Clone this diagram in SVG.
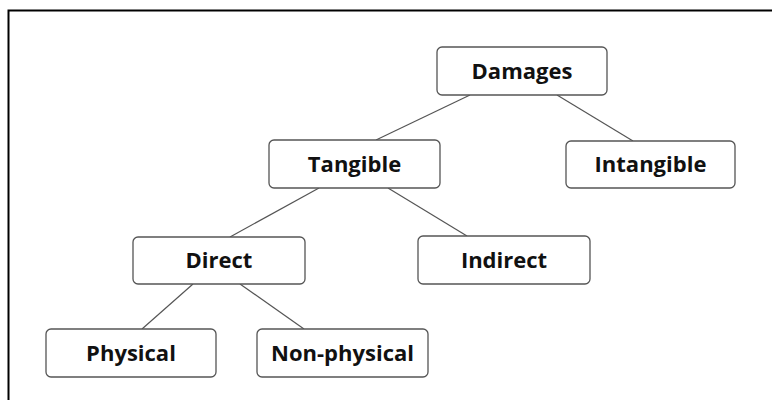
<svg xmlns="http://www.w3.org/2000/svg" width="772" height="400" viewBox="0 0 772 400">
<style>
.box{fill:#fff;stroke:#555;stroke-width:1.3}
.lbl{font-family:"Open Sans","Liberation Sans",sans-serif;font-weight:bold;font-size:22px;fill:#111;text-anchor:middle}
.edge{stroke:#555;stroke-width:1.2;fill:none}
</style>
<rect x="0" y="0" width="772" height="400" fill="#fff"/>
<rect x="8.5" y="10.5" width="770" height="400" fill="none" stroke="#000" stroke-width="2"/>
<g id="connectors">
<line class="edge" x1="470" y1="95" x2="376" y2="140"/>
<line class="edge" x1="557" y1="95" x2="633" y2="141"/>
<line class="edge" x1="319" y1="188" x2="230" y2="237"/>
<line class="edge" x1="388" y1="188" x2="467" y2="236"/>
<line class="edge" x1="193" y1="284" x2="142" y2="329"/>
<line class="edge" x1="240" y1="284" x2="304" y2="329"/>
</g>
<g id="damages"><rect class="box" x="437" y="47" width="170" height="48" rx="5"/><text class="lbl" x="522" y="78.5">Damages</text></g>
<g id="tangible"><rect class="box" x="269" y="140" width="171" height="48" rx="5"/><text class="lbl" x="354.5" y="171.5">Tangible</text></g>
<g id="intangible"><rect class="box" x="566" y="141" width="169" height="47" rx="5"/><text class="lbl" x="650.5" y="171.5">Intangible</text></g>
<g id="direct"><rect class="box" x="133" y="237" width="172" height="47" rx="5"/><text class="lbl" x="219" y="267.5">Direct</text></g>
<g id="indirect"><rect class="box" x="418" y="236" width="172" height="48" rx="5"/><text class="lbl" x="504" y="267.5">Indirect</text></g>
<g id="physical"><rect class="box" x="46" y="329" width="170" height="48" rx="5"/><text class="lbl" x="131" y="360.5">Physical</text></g>
<g id="nonphysical"><rect class="box" x="257" y="329" width="171" height="48" rx="5"/><text class="lbl" x="342.5" y="360.5">Non-physical</text></g>
</svg>
